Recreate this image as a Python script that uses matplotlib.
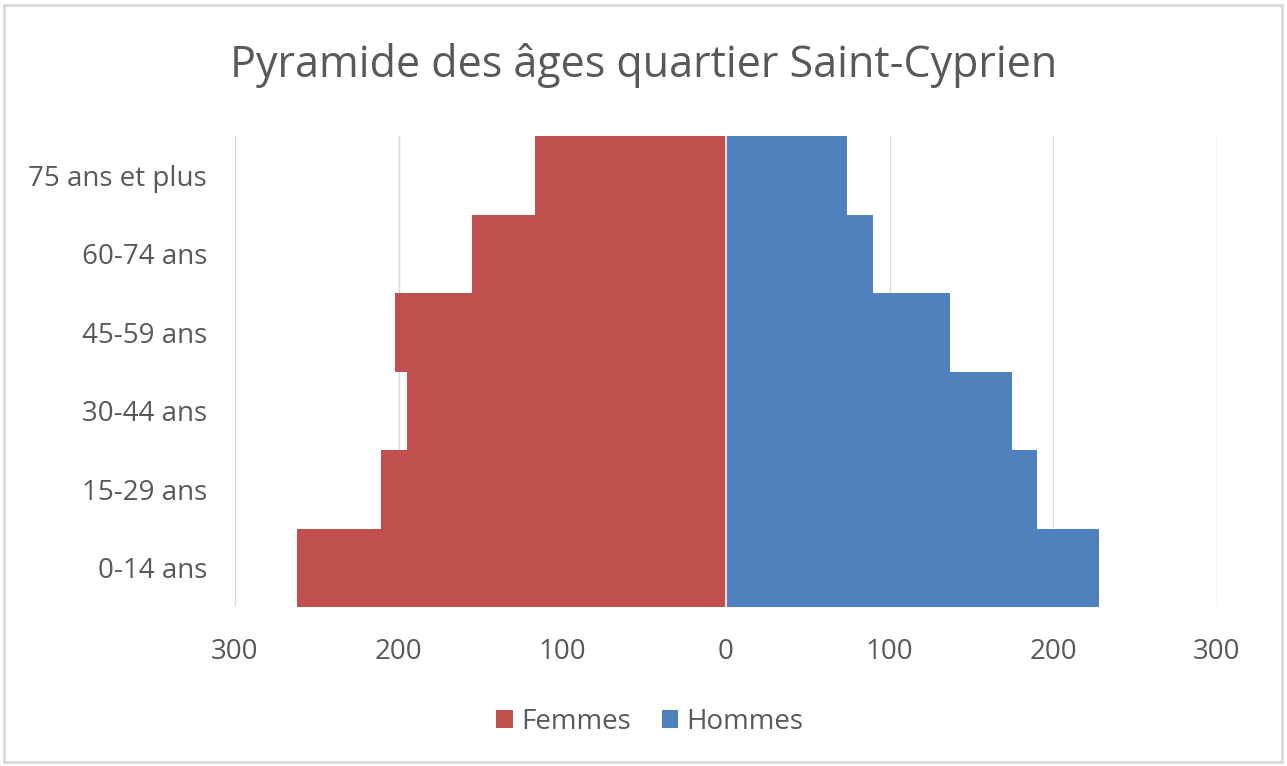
import matplotlib
matplotlib.use("Agg")
import matplotlib.pyplot as plt
from matplotlib.patches import Rectangle, Patch
import numpy as np

categories = ["0-14 ans", "15-29 ans", "30-44 ans", "45-59 ans", "60-74 ans", "75 ans et plus"]
femmes = [262, 211, 195, 202, 155, 117]
hommes = [228, 190, 175, 137, 90, 74]
xticks = [-300, -200, -100, 0, 100, 200, 300]
xticklabels = ["300", "200", "100", "0", "100", "200", "300"]

RED = "#C0504D"
BLUE = "#4F81BD"
TXT = "#595959"

plt.rcParams['font.family'] = ['Open Sans', 'DejaVu Sans']

W, H = 1287, 766
fig = plt.figure(figsize=(W/100, H/100), dpi=100)
ax = fig.add_axes([235/W, 1-607/H, (1217-235)/W, (607-136)/H])

y = np.arange(len(categories))
ax.barh(y, [-v for v in femmes], height=1.0, color=RED, linewidth=0, label="Femmes", zorder=3)
ax.barh(y, hommes, height=1.0, color=BLUE, linewidth=0, label="Hommes", zorder=3)
ax.axvline(0, color="#F2DCDB", linewidth=1.5, zorder=4)

ax.set_xlim(-300, 300)
ax.set_ylim(-0.5, len(categories)-0.5)
ax.set_xticks(xticks)
ax.set_xticklabels(xticklabels)
ax.set_yticks(y)
ax.set_yticklabels(categories)
ax.tick_params(axis='both', length=0, colors=TXT, labelsize=20)
ax.tick_params(axis='x', pad=22)
ax.tick_params(axis='y', pad=20)
ax.grid(axis='x', color="#D9D9D9", linewidth=1, zorder=0)
for s in ax.spines.values():
    s.set_visible(False)

fig.text(0.5, 1-65/H, "Pyramide des âges quartier Saint-Cyprien", ha='center', va='center',
         fontsize=31, color=TXT)

handles = [Patch(facecolor=RED, label="Femmes"), Patch(facecolor=BLUE, label="Hommes")]
fig.legend(handles=handles, loc='center', bbox_to_anchor=(650/W, 1-722/H), ncol=2, frameon=False,
           fontsize=20, labelcolor=TXT, handlelength=0.6, handleheight=0.6, handletextpad=0.3,
           columnspacing=1.1)

fig.patches.append(Rectangle((4/W, 4/H), (W-9)/W, (H-9)/H, transform=fig.transFigure,
                             fill=False, edgecolor="#D9D9D9", linewidth=2))

fig.savefig("out.png", dpi=100, facecolor="white")
